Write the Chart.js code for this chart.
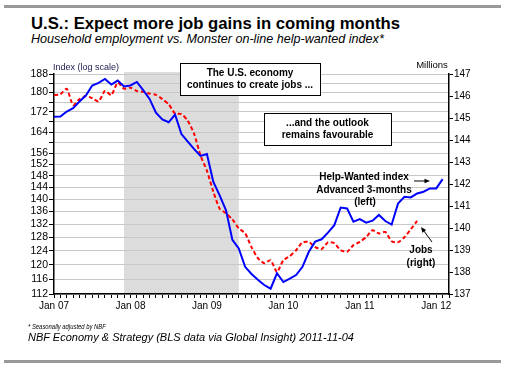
<!DOCTYPE html>
<html>
<head>
<meta charset="utf-8">
<script src="https://cdn.jsdelivr.net/npm/chart.js@4/dist/chart.umd.min.js"></script>
<style>
  body { margin: 0; background: #fff; }
  #wrap { position: relative; width: 508px; height: 369px; background: #fff; font-family: 'Liberation Sans', Arial, sans-serif; }
  .bar { position: absolute; left: 4px; width: 497px; background: #999; }
  .txt { position: absolute; white-space: nowrap; color: #000; }
  canvas { position: absolute; left: 0; top: 0; }
</style>
</head>
<body>
<div id="wrap">
  <div class="bar" style="top:5px;height:3px"></div>
  <div class="txt" style="left:31px;top:16px;font-size:16.7px;line-height:16.7px;font-weight:bold">U.S.: Expect more job gains in coming months</div>
  <div class="txt" style="left:31px;top:33px;font-size:12.6px;line-height:12.6px;font-style:italic">Household employment vs. Monster on-line help-wanted index*</div>
  <canvas id="chart" width="508" height="369"></canvas>
  <div class="txt" style="left:28px;top:323px;font-size:7px;line-height:7px;font-style:italic;transform:scaleX(0.84);transform-origin:left">* Seasonally adjusted by NBF</div>
  <div class="txt" style="left:28px;top:332px;font-size:11px;line-height:11px;font-style:italic">NBF Economy &amp; Strategy (BLS data via Global Insight) 2011-11-04</div>
  <div class="bar" style="top:360px;height:3px"></div>
</div>
<script>
// -- DATA --
const monthNames = ['Jan', 'Feb', 'Mar', 'Apr', 'May', 'Jun', 'Jul', 'Aug', 'Sep', 'Oct', 'Nov', 'Dec'];
const years = ['07', '08', '09', '10', '11', '12'];
const lastLabel = 'Mar 12';

// Monster help-wanted index, advanced 3 months (left, log scale), Jan 07 .. Feb 12
const helpWanted = [
    170.0, 170.1, 172.1, 173.5, 176.2, 178.7, 183.0, 184.1, 185.8, 183.4, 185.1, 182.6,
    183.0, 184.5, 181.0, 177.3, 171.6, 168.9, 167.8, 170.9, 163.2, 160.3, 157.5, 155.0,
    155.7, 145.9, 141.3, 136.4, 127.2, 124.7, 119.4, 117.4, 115.8, 114.4, 113.4, 117.6,
    115.2, 116.1, 117.1, 119.4, 123.7, 126.7, 127.4, 129.4, 131.7, 137.3, 137.0, 132.8,
    133.6, 132.5, 133.1, 134.9, 133.0, 131.9, 138.6, 140.8, 140.6, 141.9, 142.5, 143.6,
    143.6, 146.8
];

// Household employment, millions (right), Jan 07 .. Oct 11
const jobs = [
    146.04, 146.08, 146.33, 145.58, 145.86, 146.00, 145.90, 145.75, 146.23, 146.04, 146.61, 146.33,
    146.38, 146.23, 146.19, 146.11, 146.05, 145.86, 145.63, 145.20, 145.18, 144.87, 144.28, 143.29,
    142.61, 141.66, 140.88, 140.67, 140.39, 139.99, 139.76, 139.13, 138.63, 138.40, 138.54, 138.00,
    138.54, 138.72, 138.99, 139.35, 139.37, 139.13, 139.04, 139.35, 139.31, 138.99, 138.92, 139.22,
    139.37, 139.59, 139.90, 139.75, 139.82, 139.40, 139.35, 139.58, 139.94, 140.32
];

const leftTicks = [112, 116, 120, 124, 128, 132, 136, 140, 144, 148, 152, 156, 160, 164, 168, 172, 176, 180, 184, 188];
const leftLabels = [112, 116, 120, 124, 128, 132, 136, 140, 144, 148, 152, 156, 164, 172, 180, 188];
const recession = ['Dec 07', 'Jun 09'];

const labels = [];
years.forEach(y => monthNames.forEach(m => {
    if (labels.length === 0 || labels[labels.length - 1] !== lastLabel) labels.push(m + ' ' + y);
}));

const FONT = "'Liberation Sans', Arial, sans-serif";

// gray recession band, drawn under the grid
const shadePlugin = {
    id: 'shade',
    beforeDraw(chart) {
        const x = chart.scales.x, a = chart.chartArea, ctx = chart.ctx;
        const x0 = x.getPixelForValue(labels.indexOf(recession[0]));
        const x1 = x.getPixelForValue(labels.indexOf(recession[1]));
        ctx.save();
        ctx.fillStyle = '#dcdcdc';
        ctx.fillRect(x0, a.top - 2, x1 - x0, a.bottom - a.top + 2);
        ctx.restore();
    }
};

function arrow(ctx, x0, y0, x1, y1) {
    const ang = Math.atan2(y1 - y0, x1 - x0), h = 6;
    ctx.beginPath();
    ctx.moveTo(x0, y0);
    ctx.lineTo(x1 - Math.cos(ang) * 3, y1 - Math.sin(ang) * 3);
    ctx.stroke();
    ctx.beginPath();
    ctx.moveTo(x1, y1);
    ctx.lineTo(x1 - h * Math.cos(ang - 0.4), y1 - h * Math.sin(ang - 0.4));
    ctx.lineTo(x1 - h * Math.cos(ang + 0.4), y1 - h * Math.sin(ang + 0.4));
    ctx.closePath();
    ctx.fill();
}

// boxes, labels, arrows
const notesPlugin = {
    id: 'notes',
    afterDatasetsDraw(chart) {
        const ctx = chart.ctx;
        ctx.save();
        ctx.fillStyle = '#222255';
        ctx.font = '9px ' + FONT;
        ctx.textAlign = 'left';
        ctx.textBaseline = 'middle';
        ctx.fillText('Index (log scale)', 53, 68);
        ctx.fillStyle = '#000';
        ctx.font = '9.5px ' + FONT;
        ctx.textAlign = 'center';
        ctx.fillText('Millions', 432, 65);

        const boxes = [
            { x: 180, y: 63, w: 140, h: 32, lines: ['The U.S. economy', 'continues to create jobs ...'] },
            { x: 264, y: 113, w: 127, h: 32, lines: ['...and the outlook', 'remains favourable'] }
        ];
        ctx.lineWidth = 1;
        ctx.strokeStyle = '#000';
        boxes.forEach(b => {
            ctx.fillStyle = '#fff';
            ctx.fillRect(b.x, b.y, b.w, b.h);
            ctx.strokeRect(b.x + 0.5, b.y + 0.5, b.w, b.h);
            ctx.fillStyle = '#000';
            ctx.font = 'bold 10px ' + FONT;
            b.lines.forEach((t, i) => ctx.fillText(t, b.x + b.w / 2, b.y + 10.5 + i * 12));
        });

        ctx.font = 'bold 10px ' + FONT;
        ctx.fillText('Help-Wanted index', 364, 177.5);
        ctx.fillText('Advanced 3-months', 364, 190);
        ctx.fillText('(left)', 365, 202);
        ctx.fillText('Jobs', 421, 250);
        ctx.fillText('(right)', 421, 263);

        ctx.lineWidth = 1;
        arrow(ctx, 414, 181, 430, 181);
        arrow(ctx, 432, 242, 421, 227);
        ctx.restore();
    }
};

const ctx = document.getElementById('chart');
new Chart(ctx.getContext('2d'), {
    type: 'line',
    data: {
        labels: labels,
        datasets: [{
            label: 'Help-Wanted index',
            data: helpWanted,
            yAxisID: 'y',
            borderColor: '#0000ff',
            borderWidth: 2,
            pointRadius: 0,
            tension: 0,
            order: 1
        }, {
            label: 'Jobs',
            data: jobs,
            yAxisID: 'y1',
            borderColor: '#ff0000',
            borderWidth: 2,
            borderDash: [4, 2.5],
            pointRadius: 0,
            tension: 0.2,
            order: 2
        }]
    },
    options: {
        responsive: false,
        animation: false,
        layout: { padding: { top: 74, left: 0, right: 0, bottom: 0 } },
        plugins: {
            legend: { display: false },
            tooltip: { enabled: false }
        },
        scales: {
            x: {
                type: 'category',
                offset: false,
                grid: { display: true, drawOnChartArea: false, color: '#000', tickLength: 4 },
                border: { color: '#000', width: 1.5 },
                ticks: {
                    autoSkip: false,
                    maxRotation: 0,
                    padding: 2,
                    color: '#000',
                    font: { size: 10, family: FONT },
                    callback: (v, i) => labels[i].startsWith('Jan') ? labels[i] : ''
                },
                afterFit: s => { s.height = 75; }
            },
            y: {
                type: 'logarithmic',
                position: 'left',
                min: 112,
                max: 188,
                afterBuildTicks: s => { s.ticks = leftTicks.map(v => ({ value: v })); },
                ticks: {
                    autoSkip: false,
                    padding: 1,
                    color: '#000',
                    font: { size: 10.5, family: FONT },
                    callback: v => leftLabels.includes(v) ? String(v) : ''
                },
                grid: { color: '#c8c8c8', tickColor: '#000', tickLength: 5 },
                border: { color: '#000', width: 1.5 },
                afterFit: s => { s.width = 54; }
            },
            y1: {
                type: 'linear',
                position: 'right',
                min: 137,
                max: 147,
                ticks: { stepSize: 1, autoSkip: false, padding: 1, color: '#000', font: { size: 10, family: FONT } },
                grid: { drawOnChartArea: false, tickColor: '#000', tickLength: 4 },
                border: { color: '#000', width: 1.5 },
                afterFit: s => { s.width = 59; }
            }
        }
    },
    plugins: [shadePlugin, notesPlugin]
});
</script>
</body>
</html>
